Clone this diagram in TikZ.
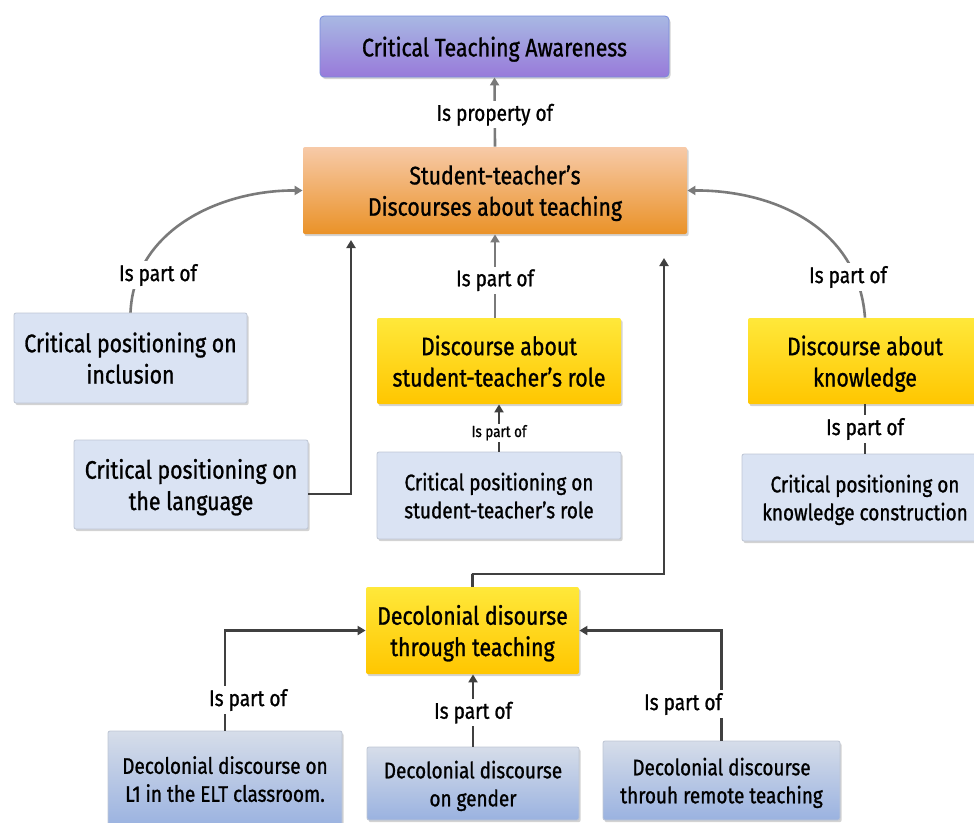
\documentclass[tikz,border=0pt]{standalone}
\usepackage{fontspec}
\setmainfont{Fira Sans}[FakeStretch=0.84, FakeBold=1]
\usetikzlibrary{shadows,arrows.meta}
\newdimen\px \px=0.75pt
\definecolor{lineDark}{HTML}{404040}
\definecolor{lineGrey}{HTML}{7A7A7A}
\definecolor{paleBlue}{HTML}{DAE3F3}
\definecolor{paleEdge}{HTML}{BEC6D4}
\definecolor{purpleEdge}{HTML}{788CDC}
\definecolor{purpleTop}{HTML}{A8B8E3}
\definecolor{purpleBot}{HTML}{987ADA}
\definecolor{orangeTop}{HTML}{F7CAA8}
\definecolor{orangeBot}{HTML}{EA9228}
\definecolor{yellowTop}{HTML}{FFE83A}
\definecolor{yellowBot}{HTML}{FFC600}
\definecolor{steelTop}{HTML}{D6DDE9}
\definecolor{steelBot}{HTML}{9AB2E0}
\tikzset{
  base/.style={line width=0.6pt, align=center, inner sep=0pt, rounded corners=1.5pt, text depth=0pt,
    drop shadow={opacity=0.35, shadow xshift=1.2pt, shadow yshift=-1.6pt}},
  bigtxt/.style={font=\fontsize{19}{23.5}\selectfont},
  midtxt/.style={font=\fontsize{16.9}{21}\selectfont},
  purplebox/.style={base, rounded corners=3pt, draw=purpleEdge, top color=purpleTop, bottom color=purpleBot},
  orangebox/.style={base, top color=orangeTop, bottom color=orangeBot},
  yellowbox/.style={base, top color=yellowTop, bottom color=yellowBot},
  bluebox/.style={base, draw=paleEdge, fill=paleBlue},
  gradbox/.style={base, draw=paleEdge, top color=steelTop, bottom color=steelBot},
  lbl/.style={fill=white, font=\fontsize{17}{19}\selectfont, inner sep=2pt},
  smalllbl/.style={fill=white, font=\fontsize{12}{13}\selectfont, inner sep=1pt},
  darkarrow/.style={draw=lineDark, line width=1.95pt, -{Triangle[length=6pt,width=6.75pt]}},
  greyarrow/.style={draw=lineGrey, line width=1.95pt, -{Triangle[length=6pt,width=6.75pt]}},
  darkline/.style={draw=lineDark, line width=1.95pt},
}
\begin{document}
\begin{tikzpicture}[x=\px, y=-\px]
\useasboundingbox (0,0) rectangle (974,822);
\clip (0,0) rectangle (974,822);

% ---- boxes ----
\node[purplebox, bigtxt, minimum width=349\px, minimum height=61\px] (cta) at (494.5,46.5)
  {Critical Teaching Awareness};
\node[orangebox, bigtxt, minimum width=384\px, minimum height=87\px] (std) at (495,190.5)
  {Student-teacher's\\Discourses about teaching};
\node[bluebox, bigtxt, minimum width=233\px, minimum height=90\px] (incl) at (130.5,358)
  {Critical positioning on\\inclusion};
\node[bluebox, bigtxt, minimum width=234\px, minimum height=89\px] (lang) at (191,484.5)
  {Critical positioning on\\the language};
\node[yellowbox, bigtxt, minimum width=244\px, minimum height=86\px] (role) at (499,361)
  {Discourse about\\student-teacher's role};
\node[bluebox, midtxt, minimum width=244\px, minimum height=87\px] (crole) at (499,495.5)
  {Critical positioning on\\student-teacher's role};
\node[yellowbox, bigtxt, minimum width=234\px, minimum height=86\px] (know) at (865,361)
  {Discourse about\\knowledge};
\node[bluebox, midtxt, minimum width=246\px, minimum height=87\px] (kcon) at (865,497.5)
  {Critical positioning on\\knowledge construction};
\node[yellowbox, bigtxt, minimum width=213\px, minimum height=87\px] (dec) at (472.5,630.5)
  {Decolonial disourse\\through teaching};
\node[gradbox, midtxt, minimum width=234\px, minimum height=96\px] (l1) at (225,779)
  {Decolonial discourse on\\L1 in the ELT classroom.};
\node[gradbox, midtxt, minimum width=212\px, minimum height=73\px] (gen) at (473,783.5)
  {Decolonial discourse\\on gender};
\node[gradbox, midtxt, minimum width=237\px, minimum height=79\px] (rem) at (721.5,780.5)
  {Decolonial discourse\\throuh remote teaching};

% ---- connectors to the top ----
\draw[greyarrow] (std.north) -- (cta.south)
  node[lbl, pos=0.46] (lprop) {Is property of};

\draw[greyarrow] (incl.north) .. controls (134,230) and (220,190) .. (std.west);
\node[lbl] (lincl) at (158,275) {Is part of};

\draw[greyarrow] (know.north) .. controls (858,225) and (770,190) .. (std.east);
\node[lbl] (lknow) at (848,277) {Is part of};

\draw[greyarrow] (role.north -| std.south) -- (std.south)
  node[lbl, pos=0.45] (lrole) {Is part of};

\draw[darkarrow] (crole.north) -- (role.south)
  node[smalllbl, pos=0.4] (lcrole) {Is part of};

\draw[darkline] (kcon.north) -- (know.south)
  node[lbl, pos=0.5] (lkcon) {Is part of};

\coordinate (langTip) at (351,240);
\draw[darkarrow] (lang.east |- 0,494) -| (langTip);

\coordinate (decTip) at (664,258);
\draw[darkarrow] (dec.north) |- (472,574) -| (decTip);

% ---- connectors into the decolonial box ----
\draw[darkarrow] (l1.north) |- (dec.west);
\node[lbl] (ll1) at (248,700) {Is part of};

\draw[darkarrow] (gen.north) -- (gen.north |- dec.south)
  node[lbl, pos=0.47] (lgen) {Is part of};

\draw[darkarrow] (rem.north) |- (dec.east);
\node[lbl] (lrem) at (683,704) {Is part of};
\end{tikzpicture}
\end{document}
